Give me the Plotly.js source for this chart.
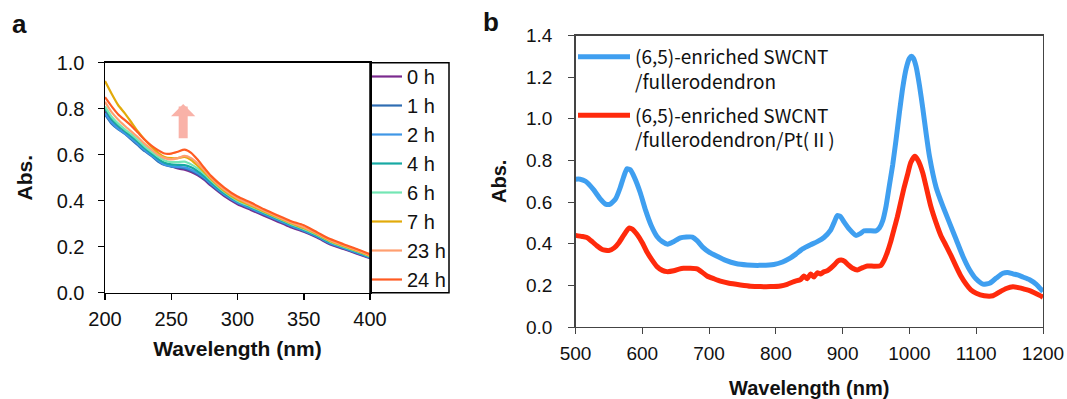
<!DOCTYPE html>
<html>
<head>
<meta charset="utf-8">
<script src="https://cdn.plot.ly/plotly-3.0.1.min.js"></script>
<style>html,body{margin:0;padding:0;background:#fff;}#chart{width:1067px;height:399px;}</style>
</head>
<body>
<div id="chart"></div>
<script>
// ---------- Panel a data ----------
const wlA = [200,205,210,215,220,225,230,235,240,245,250,255,260,265,270,275,280,290,300,310,320,330,340,350,360,370,380,390,400];
const labelsA = ["0 h","1 h","2 h","4 h","6 h","7 h","23 h","24 h"];
const colorsA = ["#7b2a8e","#2f6db3","#3f97e6","#17a9a3","#74e6b4","#e2aa0a","#ff9f70","#ff5b22"];
const absA_0h  = [0.79,0.745,0.715,0.695,0.675,0.655,0.63,0.605,0.58,0.56,0.55,0.54,0.535,0.525,0.51,0.49,0.465,0.42,0.385,0.36,0.335,0.31,0.285,0.265,0.24,0.21,0.19,0.17,0.15];
const absA_1h  = [0.775,0.735,0.71,0.69,0.665,0.64,0.615,0.595,0.57,0.555,0.548,0.545,0.54,0.53,0.515,0.495,0.47,0.425,0.39,0.365,0.34,0.315,0.29,0.268,0.243,0.213,0.193,0.173,0.152];
const absA_2h  = [0.78,0.74,0.712,0.692,0.67,0.645,0.62,0.598,0.575,0.556,0.55,0.547,0.545,0.535,0.52,0.5,0.474,0.428,0.392,0.367,0.342,0.317,0.292,0.27,0.245,0.215,0.195,0.175,0.153];
const absA_4h  = [0.8,0.755,0.725,0.703,0.68,0.655,0.628,0.605,0.582,0.565,0.558,0.556,0.555,0.545,0.528,0.506,0.48,0.433,0.397,0.372,0.347,0.322,0.297,0.274,0.249,0.219,0.198,0.178,0.156];
const absA_6h  = [0.81,0.765,0.735,0.71,0.688,0.663,0.636,0.613,0.592,0.575,0.568,0.568,0.57,0.558,0.54,0.516,0.488,0.438,0.4,0.375,0.35,0.325,0.3,0.277,0.252,0.222,0.2,0.18,0.158];
const absA_7h  = [0.92,0.865,0.815,0.78,0.74,0.7,0.665,0.635,0.608,0.59,0.585,0.585,0.59,0.577,0.552,0.524,0.495,0.443,0.405,0.379,0.353,0.328,0.303,0.281,0.255,0.225,0.203,0.183,0.16];
const absA_23h = [0.83,0.785,0.752,0.725,0.7,0.675,0.647,0.623,0.6,0.585,0.58,0.585,0.595,0.585,0.562,0.532,0.5,0.448,0.41,0.384,0.357,0.331,0.306,0.285,0.258,0.228,0.206,0.186,0.163];
const absA_24h = [0.85,0.81,0.775,0.75,0.725,0.695,0.665,0.64,0.62,0.605,0.605,0.613,0.622,0.608,0.578,0.542,0.508,0.457,0.418,0.392,0.363,0.337,0.312,0.293,0.263,0.233,0.211,0.19,0.167];
const seriesA = [absA_0h,absA_1h,absA_2h,absA_4h,absA_6h,absA_7h,absA_23h,absA_24h];
const arrowA = {x: 259, yFrom: 0.665, yTo: 0.82};

// ---------- Panel b data ----------
const labelB1 = "(6,5)-enriched SWCNT<br>/fullerodendron";
const labelB2 = "(6,5)-enriched SWCNT<br>/fullerodendron/Pt(Ⅱ)";
const wlB1 = [500,507,515,527,537,545,552,560,567,572,577,582,588,597,605,613,622,630,638,647,657,666,675,682,690,700,712,725,740,757,775,797,810,820,830,840,852,862,872,882,887,892,897,902,910,920,927,932,940,950,955,960,965,970,975,980,985,990,995,1000,1003,1006,1010,1015,1020,1025,1030,1040,1050,1060,1070,1080,1090,1100,1110,1120,1130,1140,1147,1155,1162,1170,1180,1190,1200];
const absB1 = [0.71,0.71,0.70,0.66,0.615,0.59,0.59,0.615,0.67,0.72,0.76,0.755,0.72,0.645,0.56,0.49,0.435,0.41,0.398,0.41,0.428,0.432,0.432,0.415,0.385,0.36,0.34,0.32,0.305,0.298,0.296,0.3,0.312,0.328,0.35,0.375,0.395,0.41,0.43,0.465,0.5,0.535,0.53,0.505,0.47,0.44,0.45,0.462,0.462,0.462,0.475,0.51,0.58,0.68,0.78,0.9,1.03,1.15,1.24,1.29,1.30,1.29,1.25,1.16,1.05,0.93,0.82,0.67,0.58,0.50,0.42,0.34,0.275,0.23,0.206,0.21,0.235,0.258,0.262,0.255,0.25,0.24,0.227,0.205,0.17];
const wlB2 = [500,510,517,525,532,540,550,558,565,572,580,585,592,600,607,615,622,630,637,647,655,662,672,682,690,697,707,717,730,747,762,777,792,807,817,827,837,842,847,852,857,862,867,872,877,882,888,893,898,903,908,915,922,930,937,947,957,962,967,972,977,982,987,992,997,1002,1008,1013,1020,1026,1032,1040,1047,1055,1062,1070,1077,1085,1092,1100,1112,1125,1137,1145,1155,1165,1172,1180,1187,1195,1200];
const absB2 = [0.44,0.435,0.43,0.41,0.39,0.372,0.367,0.38,0.405,0.44,0.475,0.47,0.445,0.405,0.36,0.32,0.29,0.272,0.266,0.27,0.278,0.282,0.282,0.279,0.262,0.245,0.232,0.22,0.21,0.202,0.196,0.194,0.194,0.197,0.205,0.218,0.228,0.245,0.232,0.255,0.24,0.26,0.255,0.265,0.27,0.282,0.3,0.318,0.322,0.315,0.3,0.282,0.274,0.285,0.293,0.292,0.295,0.32,0.36,0.41,0.47,0.53,0.6,0.67,0.73,0.79,0.82,0.8,0.74,0.66,0.58,0.5,0.44,0.39,0.345,0.29,0.245,0.205,0.178,0.162,0.15,0.15,0.172,0.185,0.193,0.188,0.182,0.175,0.165,0.152,0.143];
const colorB1 = "#3f9ff0";
const colorB2 = "#ff2a0c";

// ---------- traces ----------
const traces = [];
seriesA.forEach((ys, i) => {
  traces.push({
    type: "scatter", mode: "lines", x: wlA, y: ys, name: labelsA[i],
    xaxis: "x", yaxis: "y", legend: "legend", legendgroup: "a" + i,
    line: {color: colorsA[i], width: 2.2, shape: "spline", smoothing: 0.6}
  });
});
traces.push({type: "scatter", mode: "lines", x: wlB1, y: absB1, name: labelB1,
  xaxis: "x2", yaxis: "y2", legend: "legend2", legendgroup: "b1",
  line: {color: colorB1, width: 5, shape: "spline", smoothing: 0.5}});
traces.push({type: "scatter", mode: "lines", x: wlB2, y: absB2, name: labelB2,
  xaxis: "x2", yaxis: "y2", legend: "legend2", legendgroup: "b2",
  line: {color: colorB2, width: 5, shape: "spline", smoothing: 0.5}});

const W = 1067, H = 399;
const px = v => v / W, py = v => 1 - v / H;
const tickFontA = {family: "Liberation Sans, Arial, sans-serif", size: 20, color: "#111"};
const tickFontB = {family: "Liberation Sans, Arial, sans-serif", size: 19, color: "#111"};
const titleFont = s => ({family: "Liberation Sans, Arial, sans-serif", size: s, color: "#111", weight: "bold"});

const layout = {
  width: W, height: H,
  margin: {l: 0, r: 0, t: 0, b: 0},
  paper_bgcolor: "#fff", plot_bgcolor: "#fff",
  showlegend: true,
  xaxis: {
    domain: [px(105), px(370)], range: [200, 400], tickvals: [200,250,300,350,400],
    showline: true, mirror: true, linecolor: "#000", linewidth: 1.5, layer: "above traces",
    ticks: "outside", ticklen: 6, tickwidth: 1.5, tickcolor: "#000", showgrid: false, zeroline: false,
    tickfont: tickFontA, automargin: false, anchor: "y", ticklabelstandoff: 2,
    title: {text: "Wavelength (nm)", font: titleFont(21), standoff: 12}
  },
  yaxis: {
    domain: [py(292.7), py(62.7)], range: [0, 1.0], tickvals: [0,0.2,0.4,0.6,0.8,1.0], tickformat: ".1f",
    showline: true, mirror: true, linecolor: "#000", linewidth: 1.5, layer: "above traces",
    ticks: "outside", ticklen: 6, tickwidth: 1.5, tickcolor: "#000", showgrid: false, zeroline: false,
    tickfont: tickFontA, automargin: false, anchor: "x", ticklabelstandoff: 9,
    title: {text: "Abs.", font: titleFont(21), standoff: 18}
  },
  xaxis2: {
    domain: [px(575.5), px(1043)], range: [500, 1200], tickvals: [500,600,700,800,900,1000,1100,1200],
    showline: true, mirror: true, linecolor: "#444", linewidth: 1.3,
    ticks: "outside", ticklen: 6, tickcolor: "#444", showgrid: false, zeroline: false,
    tickfont: tickFontB, automargin: false, anchor: "y2", ticklabelstandoff: 3,
    title: {text: "Wavelength (nm)", font: titleFont(20), standoff: 28}
  },
  yaxis2: {
    domain: [py(327), py(35.5)], range: [0, 1.4], tickvals: [0,0.2,0.4,0.6,0.8,1.0,1.2,1.4], tickformat: ".1f",
    showline: true, mirror: true, linecolor: "#444", linewidth: 1.3,
    ticks: "outside", ticklen: 6, tickcolor: "#444", showgrid: false, zeroline: false,
    tickfont: tickFontB, automargin: false, anchor: "x2", ticklabelstandoff: 12,
    title: {text: "Abs.", font: titleFont(20), standoff: 14}
  },
  legend: {
    x: px(367), y: py(57), xanchor: "left", yanchor: "top",
    bgcolor: "rgba(0,0,0,0)", borderwidth: 0, tracegroupgap: 0, itemwidth: 30,
    font: {family: "Liberation Sans, Arial, sans-serif", size: 20, color: "#111"},
    itemclick: false, itemdoubleclick: false
  },
  legend2: {
    x: px(573), y: py(38), xanchor: "left", yanchor: "top",
    bgcolor: "rgba(0,0,0,0)", borderwidth: 0, tracegroupgap: 6, itemwidth: 52, valign: "top",
    font: {family: "Noto Sans CJK JP, sans-serif", size: 19, color: "#111"},
    itemclick: false, itemdoubleclick: false
  },
  shapes: [
    {type: "rect", xref: "paper", yref: "paper", x0: px(370), x1: px(449), y0: py(292.7), y1: py(62.7),
     line: {color: "#000", width: 1.5}, fillcolor: "rgba(0,0,0,0)"}
  ],
  annotations: [
    {xref: "paper", yref: "paper", x: px(19), y: py(24), text: "a", showarrow: false,
     xanchor: "center", yanchor: "middle", font: titleFont(26)},
    {xref: "paper", yref: "paper", x: px(491), y: py(22), text: "b", showarrow: false,
     xanchor: "center", yanchor: "middle", font: titleFont(26)},
    {xref: "x", yref: "y", axref: "x", ayref: "y", x: arrowA.x, y: arrowA.yTo, ax: arrowA.x, ay: arrowA.yFrom,
     text: "", showarrow: true, arrowhead: 1, arrowsize: 0.45, arrowwidth: 9, arrowcolor: "#f9b2a8"}
  ]
};

Plotly.newPlot("chart", traces, layout, {displayModeBar: false, staticPlot: true});
</script>
</body>
</html>
